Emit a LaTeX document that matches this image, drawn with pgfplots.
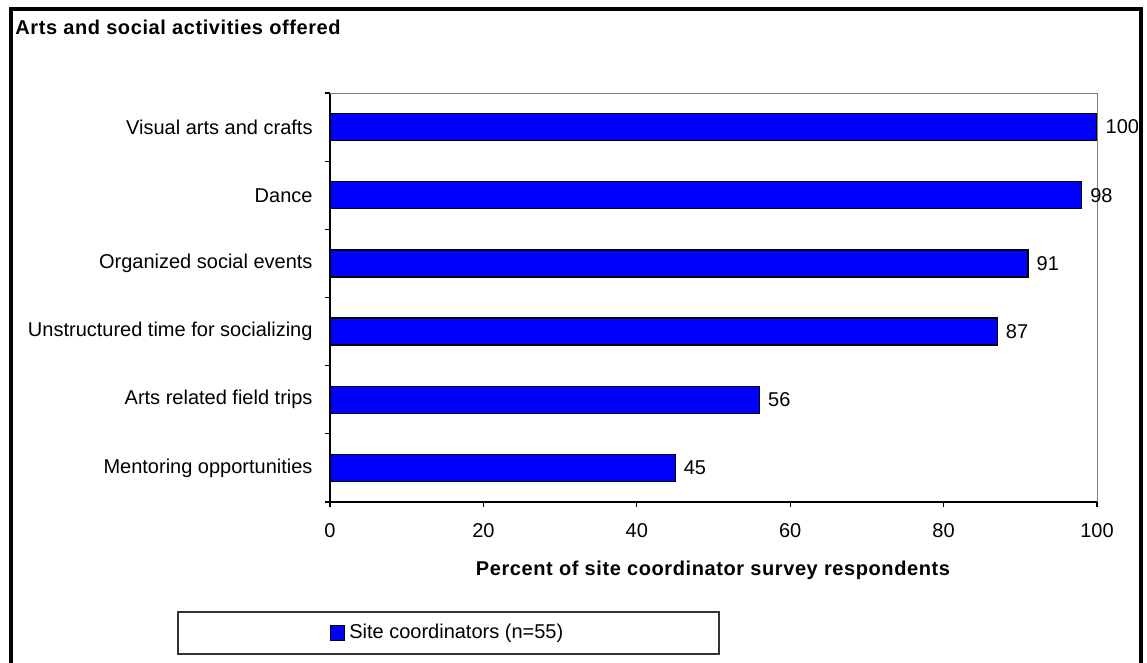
\documentclass[border=0pt]{standalone}
\usepackage{fontspec}
\setmainfont{Liberation Sans}
\newfontfamily\bsp{Liberation Sans}[LetterSpace=3]
\usepackage{pgfplots}
\pgfplotsset{compat=1.18}
\definecolor{barblue}{RGB}{0,0,255}
\begin{document}
\begin{tikzpicture}
\path[use as bounding box] (0,0) rectangle (573.5pt,331.5pt);
\draw[black, line width=2pt] (5.5pt,-5pt) -- (5.5pt,326.75pt) -- (570.25pt,326.75pt) -- (570.25pt,-5pt);
\begin{axis}[
  at={(165pt,80.5pt)}, anchor=south west,
  scale only axis, width=383.5pt, height=204.5pt,
  xbar, bar width=13.5pt,
  xmin=0, xmax=100, ymin=-0.5, ymax=5.5,
  clip=false,
  axis x line*=bottom, axis y line*=left,
  axis line style={black, line width=0.6pt},
  xtick={0,20,...,100},
  ytick={0,...,5},
  yticklabels={Mentoring opportunities, Arts related field trips, Unstructured time for socializing, Organized social events, Dance, Visual arts and crafts},
  minor ytick={-0.5,0.5,...,5.5},
  tick align=outside,
  major tick length=2.5pt, minor tick length=2.5pt,
  tick style={black, line width=0.6pt},
  major y tick style={draw=none},
  /pgf/number format/assume math mode=true,
  ticklabel style={font=\fontsize{10}{12}\selectfont},
  xticklabel style={yshift=-4.5pt},
  yticklabel style={xshift=-2.7pt},
  nodes near coords,
  nodes near coords style={font=\fontsize{10}{12}\selectfont, text=black, xshift=0.7pt},
  legend style={at={(0.1545,-0.3203)}, anchor=center, draw=none, fill=none, font=\fontsize{10}{12}\selectfont},
  legend image code/.code={\draw[#1] (0pt,-3.6pt) rectangle (7.2pt,3.6pt);},
]
\addplot[fill=barblue, draw=black, line width=0.6pt] coordinates {
  (45,0) (56,1) (87,2) (91,3) (98,4) (100,5)
};
\addlegendentry{Site coordinators (n=55)}
\draw[gray, line width=0.5pt] (axis cs:0,5.5) -| (axis cs:100,-0.5);
\end{axis}
\node[anchor=base west, inner sep=0, font=\bsp\bfseries\fontsize{10}{12}\selectfont] at (7.5pt,314pt) {Arts and social activities offered};
\node[anchor=base, inner sep=0, font=\bsp\bfseries\fontsize{10}{12}\selectfont] at (356.5pt,43.5pt) {Percent of site coordinator survey respondents};
\draw[black!80, line width=0.6pt] (89pt,4.5pt) rectangle (359.5pt,25.5pt);
\end{tikzpicture}
\end{document}
